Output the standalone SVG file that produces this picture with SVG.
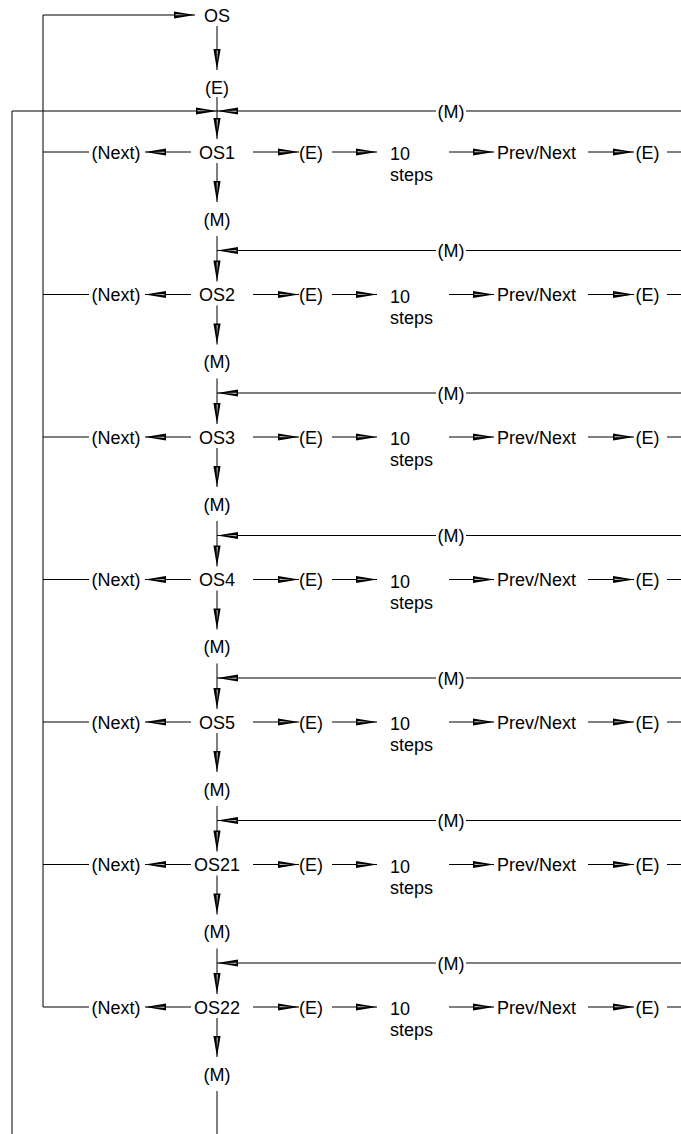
<svg xmlns="http://www.w3.org/2000/svg" width="681" height="1134" viewBox="0 0 681 1134">
<style>
text{font-family:"Liberation Sans",Arial,sans-serif;font-size:18px;fill:#000}
.c{text-anchor:middle}
#connectors path{fill:none;stroke:#000;stroke-width:1}
.a{marker-end:url(#ah)}
.ahb{fill:#000;stroke:none}
.ahw{fill:#fff;stroke:none}
</style>
<defs>
<marker id="ah" markerUnits="userSpaceOnUse" orient="auto" overflow="visible" markerWidth="1" markerHeight="1" refX="0" refY="0">
<path class="ahb" d="M0,0 L-21,-3.6 L-21,3.6 Z"/>
<path class="ahw" d="M-8,0 L-19.5,-0.7 L-19.5,0.3 Z"/>
</marker>
</defs>
<rect width="681" height="1134" fill="#fff"/>
<g id="connectors">
<path class="a" d="M43,1007 V15 H195"/>
<path class="a" d="M12,1134 V111 H217"/>
<path d="M217,26 V70" class="a"/>
<path d="M217,97 V139" class="a"/>
<path d="M681,111 H466"/><path class="a" d="M436,111 H217"/>
<path d="M43,152 H89"/><path class="a" d="M191,152 H145"/><path class="a" d="M253,152 H299"/><path class="a" d="M332,152 H377"/><path class="a" d="M449,152 H494"/><path class="a" d="M588,152 H634"/><path d="M667,152 H681"/><path class="a" d="M217,163 V202"/>
<path d="M217,236 V281.5" class="a"/><path d="M681,250.5 H466"/><path class="a" d="M436,250.5 H217"/>
<path d="M43,294.5 H89"/><path class="a" d="M191,294.5 H145"/><path class="a" d="M253,294.5 H299"/><path class="a" d="M332,294.5 H377"/><path class="a" d="M449,294.5 H494"/><path class="a" d="M588,294.5 H634"/><path d="M667,294.5 H681"/><path class="a" d="M217,305.5 V344.5"/>
<path d="M217,378.5 V424" class="a"/><path d="M681,393 H466"/><path class="a" d="M436,393 H217"/>
<path d="M43,437 H89"/><path class="a" d="M191,437 H145"/><path class="a" d="M253,437 H299"/><path class="a" d="M332,437 H377"/><path class="a" d="M449,437 H494"/><path class="a" d="M588,437 H634"/><path d="M667,437 H681"/><path class="a" d="M217,448 V487"/>
<path d="M217,521 V566.5" class="a"/><path d="M681,535.5 H466"/><path class="a" d="M436,535.5 H217"/>
<path d="M43,579.5 H89"/><path class="a" d="M191,579.5 H145"/><path class="a" d="M253,579.5 H299"/><path class="a" d="M332,579.5 H377"/><path class="a" d="M449,579.5 H494"/><path class="a" d="M588,579.5 H634"/><path d="M667,579.5 H681"/><path class="a" d="M217,590.5 V629.5"/>
<path d="M217,663.5 V709" class="a"/><path d="M681,678 H466"/><path class="a" d="M436,678 H217"/>
<path d="M43,722 H89"/><path class="a" d="M191,722 H145"/><path class="a" d="M253,722 H299"/><path class="a" d="M332,722 H377"/><path class="a" d="M449,722 H494"/><path class="a" d="M588,722 H634"/><path d="M667,722 H681"/><path class="a" d="M217,733 V772"/>
<path d="M217,806 V851.5" class="a"/><path d="M681,820.5 H466"/><path class="a" d="M436,820.5 H217"/>
<path d="M43,864.5 H89"/><path class="a" d="M191,864.5 H145"/><path class="a" d="M253,864.5 H299"/><path class="a" d="M332,864.5 H377"/><path class="a" d="M449,864.5 H494"/><path class="a" d="M588,864.5 H634"/><path d="M667,864.5 H681"/><path class="a" d="M217,875.5 V914.5"/>
<path d="M217,948.5 V994" class="a"/><path d="M681,963 H466"/><path class="a" d="M436,963 H217"/>
<path d="M43,1007 H89"/><path class="a" d="M191,1007 H145"/><path class="a" d="M253,1007 H299"/><path class="a" d="M332,1007 H377"/><path class="a" d="M449,1007 H494"/><path class="a" d="M588,1007 H634"/><path d="M667,1007 H681"/><path class="a" d="M217,1018 V1057"/>
<path d="M217,1091 V1134"/>
</g>
<g id="os"><text class="c" x="217" y="21.5">OS</text></g>
<g id="e0"><text class="c" x="217" y="93.5">(E)</text></g>
<g id="m0"><text class="c" x="451" y="117.5">(M)</text></g>
<g id="row1">
<text class="c" x="116" y="158.5">(Next)</text><text class="c" x="217" y="158.5">OS1</text><text class="c" x="311" y="158.5">(E)</text>
<text x="390" y="160">10<tspan x="390" y="181">steps</tspan></text><text x="497" y="158.5">Prev/Next</text><text class="c" x="647.5" y="158.5">(E)</text>
<text class="c" x="217" y="225.5">(M)</text><text class="c" x="451" y="257">(M)</text>
</g>
<g id="row2">
<text class="c" x="116" y="301">(Next)</text><text class="c" x="217" y="301">OS2</text><text class="c" x="311" y="301">(E)</text>
<text x="390" y="302.5">10<tspan x="390" y="323.5">steps</tspan></text><text x="497" y="301">Prev/Next</text><text class="c" x="647.5" y="301">(E)</text>
<text class="c" x="217" y="368">(M)</text><text class="c" x="451" y="399.5">(M)</text>
</g>
<g id="row3">
<text class="c" x="116" y="443.5">(Next)</text><text class="c" x="217" y="443.5">OS3</text><text class="c" x="311" y="443.5">(E)</text>
<text x="390" y="445">10<tspan x="390" y="466">steps</tspan></text><text x="497" y="443.5">Prev/Next</text><text class="c" x="647.5" y="443.5">(E)</text>
<text class="c" x="217" y="510.5">(M)</text><text class="c" x="451" y="542">(M)</text>
</g>
<g id="row4">
<text class="c" x="116" y="586">(Next)</text><text class="c" x="217" y="586">OS4</text><text class="c" x="311" y="586">(E)</text>
<text x="390" y="587.5">10<tspan x="390" y="608.5">steps</tspan></text><text x="497" y="586">Prev/Next</text><text class="c" x="647.5" y="586">(E)</text>
<text class="c" x="217" y="653">(M)</text><text class="c" x="451" y="684.5">(M)</text>
</g>
<g id="row5">
<text class="c" x="116" y="728.5">(Next)</text><text class="c" x="217" y="728.5">OS5</text><text class="c" x="311" y="728.5">(E)</text>
<text x="390" y="730">10<tspan x="390" y="751">steps</tspan></text><text x="497" y="728.5">Prev/Next</text><text class="c" x="647.5" y="728.5">(E)</text>
<text class="c" x="217" y="795.5">(M)</text><text class="c" x="451" y="827">(M)</text>
</g>
<g id="row6">
<text class="c" x="116" y="871">(Next)</text><text class="c" x="217" y="871">OS21</text><text class="c" x="311" y="871">(E)</text>
<text x="390" y="872.5">10<tspan x="390" y="893.5">steps</tspan></text><text x="497" y="871">Prev/Next</text><text class="c" x="647.5" y="871">(E)</text>
<text class="c" x="217" y="938">(M)</text><text class="c" x="451" y="969.5">(M)</text>
</g>
<g id="row7">
<text class="c" x="116" y="1013.5">(Next)</text><text class="c" x="217" y="1013.5">OS22</text><text class="c" x="311" y="1013.5">(E)</text>
<text x="390" y="1015">10<tspan x="390" y="1036">steps</tspan></text><text x="497" y="1013.5">Prev/Next</text><text class="c" x="647.5" y="1013.5">(E)</text>
<text class="c" x="217" y="1080.5">(M)</text>
</g>
</svg>
